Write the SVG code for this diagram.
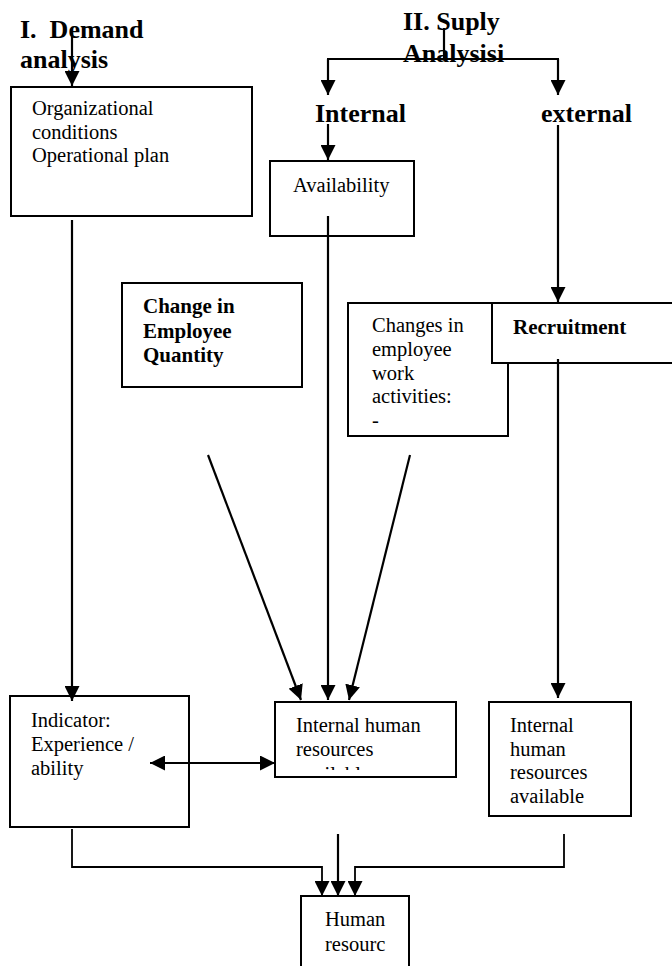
<svg xmlns="http://www.w3.org/2000/svg" width="672" height="966" viewBox="0 0 672 966">
<style>
.box{fill:#fff;stroke:#000;stroke-width:2}
.t{font-family:"Liberation Serif","Times New Roman",serif;font-size:20.5px;fill:#000}
.b{font-family:"Liberation Serif","Times New Roman",serif;font-size:21px;font-weight:bold;fill:#000}
.h{font-family:"Liberation Serif","Times New Roman",serif;font-size:26px;font-weight:bold;fill:#000;white-space:pre}
.c{fill:none;stroke:#000;stroke-width:2.2}
.c2{fill:none;stroke:#000;stroke-width:1.8}
</style>
<defs>
<marker id="ah" markerUnits="userSpaceOnUse" markerWidth="15" markerHeight="15" viewBox="0 0 15 15" refX="15" refY="7.5" orient="auto">
<path d="M0,0 L15,7.5 L0,15 Z" fill="#000"/>
</marker>
<marker id="as" markerUnits="userSpaceOnUse" markerWidth="15" markerHeight="15" viewBox="0 0 15 15" refX="0" refY="7.5" orient="auto">
<path d="M15,0 L0,7.5 L15,15 Z" fill="#000"/>
</marker>
<clipPath id="clipIhr"><rect x="276" y="703" width="179" height="67"/></clipPath>
</defs>

<g id="title-demand">
<text class="h" x="20" y="38" xml:space="preserve">I.  Demand</text>
<text class="h" x="20" y="68">analysis</text>
</g>
<g id="title-supply">
<text class="h" x="403" y="30">II. Suply</text>
<text class="h" x="403" y="62">Analysisi</text>
</g>
<g id="label-internal"><text class="h" x="315" y="122">Internal</text></g>
<g id="label-external"><text class="h" x="541" y="122">external</text></g>

<g id="node-org">
<rect class="box" x="11" y="87" width="241" height="129"/>
<text class="t" x="32" y="115">Organizational</text>
<text class="t" x="32" y="139">conditions</text>
<text class="t" x="32" y="162">Operational plan</text>
</g>

<g id="node-availability">
<rect class="box" x="270" y="161" width="144" height="75"/>
<text class="t" x="293" y="192">Availability</text>
</g>

<g id="node-quantity">
<rect class="box" x="122" y="283" width="180" height="104"/>
<text class="b" x="143" y="313">Change in</text>
<text class="b" x="143" y="338">Employee</text>
<text class="b" x="143" y="362">Quantity</text>
</g>

<g id="node-changes">
<rect class="box" x="348" y="303" width="160" height="133"/>
<text class="t" x="372" y="332">Changes in</text>
<text class="t" x="372" y="356">employee</text>
<text class="t" x="372" y="380">work</text>
<text class="t" x="372" y="403">activities:</text>
<text class="t" x="372" y="427">-</text>
</g>

<g id="node-recruitment">
<rect class="box" x="492" y="303" width="190" height="60"/>
<text class="b" x="513" y="334">Recruitment</text>
</g>

<g id="node-indicator">
<rect class="box" x="10" y="696" width="179" height="131"/>
<text class="t" x="31" y="727">Indicator:</text>
<text class="t" x="31" y="751">Experience /</text>
<text class="t" x="31" y="775">ability</text>
</g>

<g id="node-ihr">
<rect class="box" x="275" y="702" width="181" height="75"/>
<text class="t" x="296" y="732">Internal human</text>
<text class="t" x="296" y="756">resources</text>
<text class="t" x="296" y="781" clip-path="url(#clipIhr)">available</text>
</g>

<g id="node-ihr-available">
<rect class="box" x="489" y="702" width="142" height="114"/>
<text class="t" x="510" y="732">Internal</text>
<text class="t" x="510" y="756">human</text>
<text class="t" x="510" y="779">resources</text>
<text class="t" x="510" y="803">available</text>
</g>

<g id="node-human">
<rect class="box" x="301" y="896" width="108" height="90"/>
<text class="t" x="325" y="926">Human</text>
<text class="t" x="325" y="951">resourc</text>
</g>

<g id="connectors">
<line class="c" x1="72" y1="33" x2="72" y2="86" marker-end="url(#ah)"/>
<line class="c" x1="444" y1="28" x2="444" y2="59"/>
<line class="c" x1="327" y1="59" x2="559" y2="59"/>
<line class="c" x1="328" y1="59" x2="328" y2="95" marker-end="url(#ah)"/>
<line class="c" x1="558" y1="59" x2="558" y2="95" marker-end="url(#ah)"/>
<line class="c" x1="328" y1="124" x2="328" y2="160" marker-end="url(#ah)"/>
<line class="c" x1="72" y1="220" x2="72" y2="701" marker-end="url(#ah)"/>
<line class="c" x1="328" y1="216" x2="328" y2="700" marker-end="url(#ah)"/>
<line class="c" x1="558" y1="125" x2="558" y2="302" marker-end="url(#ah)"/>
<line class="c" x1="558" y1="359" x2="558" y2="698" marker-end="url(#ah)"/>
<line class="c" x1="208" y1="455" x2="301" y2="700" marker-end="url(#ah)"/>
<line class="c" x1="410" y1="455" x2="349" y2="700" marker-end="url(#ah)"/>
<line class="c" x1="150" y1="763" x2="275" y2="763" marker-start="url(#as)" marker-end="url(#ah)"/>
<polyline class="c2" points="72,829 72,867 322,867 322,896" marker-end="url(#ah)"/>
<line class="c" x1="338" y1="834" x2="338" y2="896" marker-end="url(#ah)"/>
<polyline class="c2" points="564,834 564,867 355,867 355,896" marker-end="url(#ah)"/>
</g>
</svg>
